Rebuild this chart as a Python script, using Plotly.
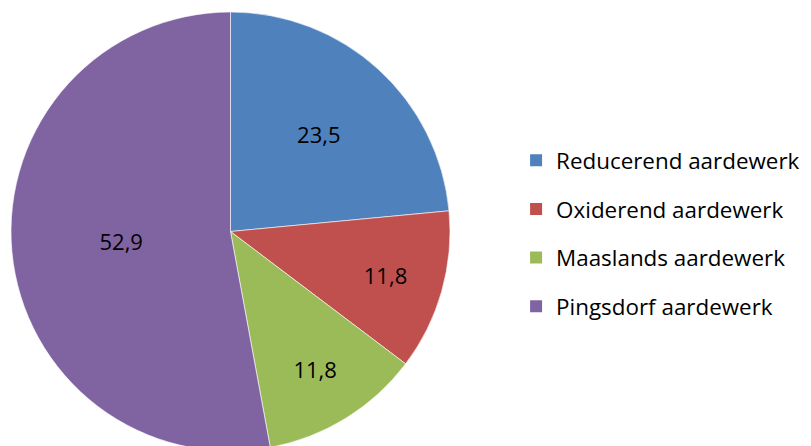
import plotly.graph_objects as go

categories = ["Reducerend aardewerk", "Oxiderend aardewerk", "Maaslands aardewerk", "Pingsdorf aardewerk"]
values = [23.5, 11.8, 11.8, 52.9]
value_labels = ["23,5", "11,8", "11,8", "52,9"]
colors = ["#4F81BD", "#C0504D", "#9BBB59", "#8064A2"]

FONT = "Open Sans"

fig = go.Figure()
fig.add_trace(go.Pie(
    labels=categories,
    values=values,
    text=value_labels,
    textinfo="text",
    textposition="inside",
    insidetextorientation="horizontal",
    sort=False,
    direction="clockwise",
    rotation=0,
    marker=dict(colors=colors, line=dict(color="rgba(255,255,255,0.6)", width=1)),
    textfont=dict(family=FONT, size=22, color="black"),
    domain=dict(x=[0, 0.5487], y=[0.0067, 0.991]),
    showlegend=False,
    hoverinfo="label+value",
))

# legend entries
for name, col in zip(categories, colors):
    fig.add_trace(go.Scatter(
        x=[None], y=[None], mode="markers", name=name, legendgroup=name,
        marker=dict(symbol="square", size=12, color=col),
    ))

fig.update_layout(
    width=811, height=446,
    margin=dict(l=0, r=0, t=0, b=0),
    paper_bgcolor="white", plot_bgcolor="white",
    xaxis=dict(visible=False), yaxis=dict(visible=False),
    legend=dict(x=0.6265, y=0.495, xanchor="left", yanchor="middle",
                font=dict(family=FONT, size=22.4, color="black"),
                tracegroupgap=16.5, itemsizing="constant"),
)

fig.write_html("out.html")
